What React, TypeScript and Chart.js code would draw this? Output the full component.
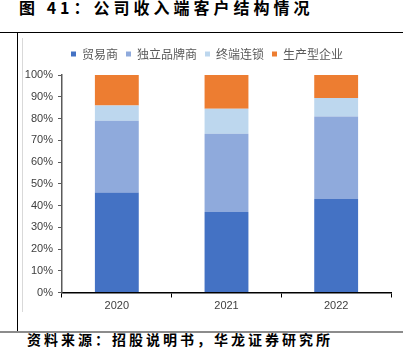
import React, { useEffect, useRef } from "react";
import { Chart, registerables } from "chart.js";

Chart.register(...registerables);

const categories = ["2020", "2021", "2022"];
const seriesNames = ["贸易商", "独立品牌商", "终端连锁", "生产型企业"];
const traders = [46, 37, 43];
const brands = [33, 36, 38];
const chains = [7, 11.5, 8.5];
const manufacturers = [14, 15.5, 10.5];
const seriesColors = ["#4472C4", "#8FAADC", "#BDD7EE", "#ED7D31"];
const yMin = 0;
const yMax = 100;
const yStep = 10;

const titleText = "图 41：公司收入端客户结构情况";
const sourceText = "资料来源：招股说明书，华龙证券研究所";

export default function App() {
  const canvasRef = useRef<HTMLCanvasElement | null>(null);

  useEffect(() => {
    const canvas = canvasRef.current;
    if (!canvas) return;
    const values = [traders, brands, chains, manufacturers];
    const chart = new Chart(canvas, {
      type: "bar",
      data: {
        labels: categories,
        datasets: seriesNames.map((name, i) => ({
          label: name,
          data: values[i],
          backgroundColor: seriesColors[i],
          borderWidth: 0,
          barPercentage: 0.4,
          categoryPercentage: 1,
        })),
      },
      options: {
        responsive: false,
        animation: false,
        devicePixelRatio: 1,
        layout: { padding: { left: 0, right: 12, top: 0, bottom: 0 } },
        plugins: {
          tooltip: { enabled: false },
          legend: {
            display: true,
            position: "top",
            labels: {
              boxWidth: 5,
              boxHeight: 5,
              padding: 8,
              color: "#595959",
              font: { family: "'Noto Sans CJK SC', sans-serif", size: 12 },
            },
          },
          title: {
            display: true,
            text: "",
            weight: 500,
            position: "top",
            font: { size: 1, lineHeight: 1 },
            padding: { top: 4.1, bottom: 0 },
          } as any,
        },
        scales: {
          x: {
            stacked: true,
            afterFit: (scale: any) => {
              scale.height = 19.5;
            },
            grid: {
              offset: true,
              drawOnChartArea: false,
              drawTicks: true,
              tickLength: 5,
              color: "#000000",
              lineWidth: 1,
            },
            border: { display: true, color: "#000000", width: 1.5 },
            ticks: {
              padding: 2,
              color: "#404040",
              font: { family: "'Liberation Sans', Arial, sans-serif", size: 11 },
            },
          },
          y: {
            stacked: true,
            min: yMin,
            max: yMax,
            afterFit: (scale: any) => {
              scale.width = 39;
            },
            grid: {
              drawOnChartArea: false,
              drawTicks: true,
              tickLength: 4,
              color: "#5a5a5a",
              lineWidth: 1,
            },
            border: { display: true, color: "#5a5a5a", width: 1.5 },
            ticks: {
              stepSize: yStep,
              padding: 5,
              color: "#404040",
              font: { family: "'Liberation Sans', Arial, sans-serif", size: 11 },
              callback: (v: any) => `${v}%`,
            },
          },
        },
      },
    });
    return () => chart.destroy();
  }, []);

  return (
    <div
      style={{
        position: "absolute",
        left: 0,
        top: 0,
        width: 411,
        height: 356,
        background: "#ffffff",
        overflow: "hidden",
      }}
    >
      <div
        style={{
          position: "absolute",
          left: 19,
          top: -1,
          fontFamily: "'Noto Sans CJK SC', sans-serif",
          fontWeight: 700,
          fontSize: 16,
          lineHeight: "17px",
          letterSpacing: "4px",
          color: "#000",
          whiteSpace: "nowrap",
        }}
      >
        {titleText}
      </div>
      <div style={{ position: "absolute", left: 0, top: 32, width: 403, height: 1, background: "#000" }} />
      <div style={{ position: "absolute", left: 17, top: 32, width: 1, height: 299, background: "#000" }} />
      <div style={{ position: "absolute", left: 22, top: 38, width: 1, height: 274, background: "#d9d9d9" }} />
      <div style={{ position: "absolute", left: 0, top: 331, width: 403, height: 2, background: "#8c8c8c" }} />
      <canvas
        ref={canvasRef}
        width={380}
        height={272}
        style={{ position: "absolute", left: 23, top: 40, width: 380, height: 272 }}
      />
      <div
        style={{
          position: "absolute",
          left: 27,
          top: 332,
          fontFamily: "'Noto Sans CJK SC', sans-serif",
          fontWeight: 700,
          fontSize: 14,
          lineHeight: "15px",
          letterSpacing: "3px",
          color: "#000",
          whiteSpace: "nowrap",
        }}
      >
        {sourceText}
      </div>
    </div>
  );
}
